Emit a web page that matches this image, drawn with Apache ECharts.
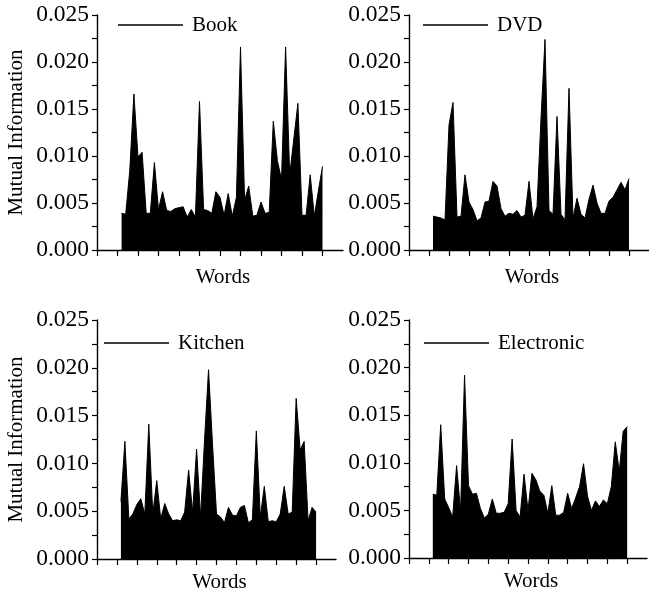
<!DOCTYPE html>
<html>
<head>
<meta charset="utf-8">
<script src="https://cdn.jsdelivr.net/npm/echarts@6/dist/echarts.min.js"></script>
<style>
html,body{margin:0;padding:0;background:#fff;}
#chart{width:649px;height:598px;}
</style>
</head>
<body>
<div id="chart"></div>
<script>
// Word positions along the x axis (word index)
const wordIndex = [6,7,8,9,10,11,12,13,14,15,16,17,18,19,20,21,22,23,24,25,26,27,28,29,30,
  31,32,33,34,35,36,37,38,39,40,41,42,43,44,45,46,47,48,49,50,51,52,53,54,55];
const xTickValues = [0,5,10,15,20,25,30,35,40,45,50,55];
const panelNames = ['Book','DVD','Kitchen','Electronic'];

const bookMI = [0.0039,0.0038,0.0085,0.0166,0.0099,0.0104,0.0039,0.0039,0.0093,0.0043,
  0.0062,0.0042,0.0041,0.0044,0.0045,0.0046,0.0035,0.0043,0.0035,0.0158,
  0.0043,0.0042,0.0039,0.0062,0.0056,0.0037,0.0060,0.0036,0.0056,0.0216,
  0.0053,0.0068,0.0036,0.0037,0.0051,0.0039,0.0040,0.0137,0.0095,0.0075,
  0.0216,0.0080,0.0118,0.0156,0.0037,0.0037,0.0080,0.0036,0.0063,0.0089];
const dvdMI = [0.0036,0.0035,0.0034,0.0032,0.0133,0.0157,0.0035,0.0036,0.0080,0.0051,
  0.0043,0.0031,0.0034,0.0051,0.0052,0.0073,0.0068,0.0044,0.0036,0.0039,
  0.0038,0.0042,0.0035,0.0037,0.0073,0.0033,0.0046,0.0140,0.0224,0.0042,
  0.0038,0.0142,0.0038,0.0032,0.0172,0.0034,0.0055,0.0038,0.0034,0.0054,
  0.0069,0.0050,0.0039,0.0039,0.0052,0.0056,0.0064,0.0072,0.0064,0.0076];
const kitchenMI = [0.0060,0.0123,0.0042,0.0047,0.0057,0.0063,0.0047,0.0141,0.0047,0.0082,
  0.0042,0.0058,0.0047,0.0040,0.0041,0.0040,0.0049,0.0093,0.0049,0.0115,
  0.0044,0.0125,0.0198,0.0120,0.0047,0.0044,0.0038,0.0054,0.0046,0.0045,
  0.0054,0.0056,0.0038,0.0041,0.0134,0.0044,0.0076,0.0039,0.0040,0.0039,
  0.0047,0.0076,0.0047,0.0049,0.0168,0.0114,0.0123,0.0040,0.0054,0.0049];
const electronicMI = [0.0067,0.0066,0.0140,0.0062,0.0053,0.0043,0.0097,0.0049,0.0192,0.0076,
  0.0067,0.0068,0.0052,0.0042,0.0046,0.0062,0.0047,0.0047,0.0048,0.0057,
  0.0125,0.0050,0.0043,0.0088,0.0050,0.0089,0.0082,0.0070,0.0066,0.0047,
  0.0076,0.0045,0.0045,0.0048,0.0068,0.0052,0.0063,0.0075,0.0099,0.0065,
  0.0050,0.0060,0.0054,0.0061,0.0057,0.0075,0.0122,0.0091,0.0133,0.0138];

const seriesValues = [bookMI, dvdMI, kitchenMI, electronicMI];

const FONT = "'Liberation Serif','Times New Roman',serif";
const grids = [
  {left:97, top:15, width:246, height:235},
  {left:409, top:15, width:245, height:235},
  {left:97, top:320, width:239, height:239},
  {left:409, top:320, width:238, height:238}
];
const legendPos = [
  {left:118, top:14},
  {left:423, top:14},
  {left:104, top:332},
  {left:424, top:332}
];

const chart = echarts.init(document.getElementById('chart'), null, {renderer:'canvas'});
const axisLine = {show:true, lineStyle:{color:'#000', width:1.4}};
const option = {
  animation:false,
  backgroundColor:'#fff',
  grid: grids,
  legend: panelNames.map((n,i)=>({
    data:[n], left:legendPos[i].left, top:legendPos[i].top, padding:0,
    icon:'rect', itemWidth:65, itemHeight:1.5, selectedMode:false,
    textStyle:{fontFamily:FONT, fontSize:21, color:'#000', lineHeight:22, padding:[0,0,0,4]}
  })),
  xAxis: panelNames.map((n,i)=>({
    type:'value', gridIndex:i, min:0, max:60,
    name:'Words', nameLocation:'middle', nameGap: i<2 ? 17 : 13,
    nameTextStyle:{fontFamily:FONT, fontSize:21, color:'#000', padding:[0,0,0,6]},
    axisLine: axisLine,
    axisTick:{show:true, length:6, customValues:xTickValues, lineStyle:{color:'#000', width:1.2}},
    axisLabel:{show:false},
    splitLine:{show:false}
  })),
  yAxis: panelNames.map((n,i)=>({
    type:'value', gridIndex:i, min:0, max:0.025, interval:0.005,
    name: (i%2===0) ? 'Mutual Information' : '',
    nameLocation:'middle', nameGap:70,
    nameTextStyle:{fontFamily:FONT, fontSize:21, color:'#000'},
    axisLine: axisLine,
    axisTick:{show:true, length:5, lineStyle:{color:'#000', width:1.2}},
    minorTick:{show:true, splitNumber:2, length:5, lineStyle:{color:'#000', width:1.2}},
    axisLabel:{fontFamily:FONT, fontSize:23.5, color:'#000', margin:8,
      formatter:v=>v.toFixed(3)},
    splitLine:{show:false}
  })),
  series: panelNames.map((n,i)=>({
    name:n, type:'line', xAxisIndex:i, yAxisIndex:i,
    data: wordIndex.map((w,k)=>[w, seriesValues[i][k]]),
    symbol:'none', color:'#000',
    lineStyle:{color:'#000', width:1},
    areaStyle:{color:'#000', opacity:1},
    z:1
  }))
};
chart.setOption(option);
</script>
</body>
</html>
